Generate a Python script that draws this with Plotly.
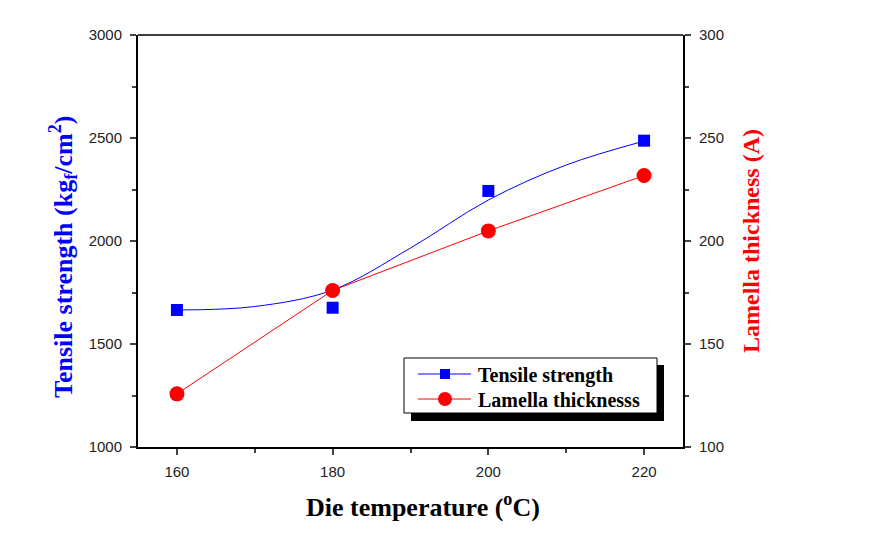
import plotly.graph_objects as go

temps = [160, 180, 200, 220]
tensile = [1665, 1676, 2243, 2487]
lamella = [125.8, 176.0, 204.9, 231.8]

# smooth fit curve
curve_x = [160, 170, 180, 190, 200, 210, 220]
curve_y = [1665, 1682, 1762, 1966, 2199, 2369, 2485]

series_names = ["Tensile strength", "Lamella thicknesss"]
series_colors = ["#0000ff", "#ff0000"]

fig = go.Figure()
fig.add_trace(go.Scatter(x=curve_x, y=curve_y, mode="lines", line=dict(color=series_colors[0], width=1, shape="spline", smoothing=1.0),
                         showlegend=False, hoverinfo="skip"))
fig.add_trace(go.Scatter(x=temps, y=tensile, mode="markers", name=series_names[0],
                         marker=dict(symbol="square", size=12, color=series_colors[0])))
fig.add_trace(go.Scatter(x=temps, y=lamella, mode="lines+markers", name=series_names[1], yaxis="y2",
                         line=dict(color=series_colors[1], width=1), marker=dict(symbol="circle", size=15, color=series_colors[1])))

# plot area in pixels (for placing the boxed legend)
PL, PR, PT, PB = 138, 683, 35, 447
def px(x):
    return (x - PL) / (PR - PL)
def py(y):
    return (PB - y) / (PB - PT)

serif = "Liberation Serif, Times New Roman"
tickfont = dict(family="Liberation Sans, Arial", size=15, color="#222222")

shapes = [
    dict(type="line", xref="paper", yref="paper", x0=0, x1=1, y0=1, y1=1, line=dict(color="black", width=1.5)),
    # legend shadow and box
    dict(type="rect", xref="paper", yref="paper", x0=px(411), x1=px(664), y0=py(365), y1=py(421),
         fillcolor="black", line=dict(width=0), layer="above"),
    dict(type="rect", xref="paper", yref="paper", x0=px(404), x1=px(657), y0=py(358), y1=py(413),
         fillcolor="white", line=dict(color="black", width=1), layer="above"),
]
annotations = []
rows_y = [374, 399]
for i, (nm, col) in enumerate(zip(series_names, series_colors)):
    yy = rows_y[i]
    shapes.append(dict(type="line", xref="paper", yref="paper", x0=px(418), x1=px(471), y0=py(yy), y1=py(yy),
                       line=dict(color=col, width=1), layer="above"))
    if i == 0:
        shapes.append(dict(type="rect", xref="paper", yref="paper", x0=px(440), x1=px(450), y0=py(yy - 5), y1=py(yy + 5),
                           fillcolor=col, line=dict(width=0), layer="above"))
    else:
        shapes.append(dict(type="circle", xref="paper", yref="paper", x0=px(438), x1=px(452), y0=py(yy - 7), y1=py(yy + 7),
                           fillcolor=col, line=dict(width=0), layer="above"))
    annotations.append(dict(xref="paper", yref="paper", x=px(476), y=py(yy + 1), xanchor="left", yanchor="middle",
                            text="<b>%s</b>" % nm, showarrow=False,
                            font=dict(family=serif, size=20, color="black")))

annotations.append(dict(xref="paper", yref="paper", x=px(63), y=py(257), xanchor="center", yanchor="middle",
                        textangle=-90, showarrow=False,
                        text="<b>Tensile strength (kg<sub>f</sub>/cm<sup>2</sup>)</b>",
                        font=dict(family=serif, size=26, color="#0000ff")))
annotations.append(dict(xref="paper", yref="paper", x=px(423), y=py(505), xanchor="center", yanchor="middle",
                        showarrow=False, text="<b>Die temperature (<sup>o</sup>C)</b>",
                        font=dict(family=serif, size=26, color="black")))

fig.update_layout(
    width=864, height=547,
    margin=dict(l=130, r=189, t=27, b=108),
    plot_bgcolor="white", paper_bgcolor="white",
    showlegend=False,
    xaxis=dict(range=[155, 225], tickvals=[160, 180, 200, 220], ticks="outside", ticklen=6, tickwidth=2,
               showline=True, linecolor="black", linewidth=2, showgrid=False, zeroline=False, tickfont=tickfont,
               ticklabelstandoff=4,
               minor=dict(tickvals=[170, 190, 210], ticks="outside", ticklen=4, tickwidth=2, showgrid=False)),
    yaxis=dict(range=[1000, 3000], dtick=500, ticks="outside", ticklen=6, tickwidth=2,
               showline=True, linecolor="black", linewidth=2, showgrid=False, zeroline=False, tickfont=tickfont,
               ticklabelstandoff=5,
               minor=dict(dtick=250, ticks="outside", ticklen=4, tickwidth=2, showgrid=False)),
    yaxis2=dict(range=[100, 300], dtick=50, overlaying="y", side="right", ticks="outside", ticklen=6, tickwidth=2,
                showline=True, linecolor="black", linewidth=2, showgrid=False, zeroline=False, tickfont=tickfont,
                ticklabelstandoff=5,
                minor=dict(dtick=25, ticks="outside", ticklen=4, tickwidth=2, showgrid=False),
                title=dict(text="<b>Lamella thickness (A)</b>", standoff=19,
                           font=dict(family=serif, size=24, color="#ff0000"))),
    shapes=shapes,
    annotations=annotations,
)
fig.write_html("out.html")
